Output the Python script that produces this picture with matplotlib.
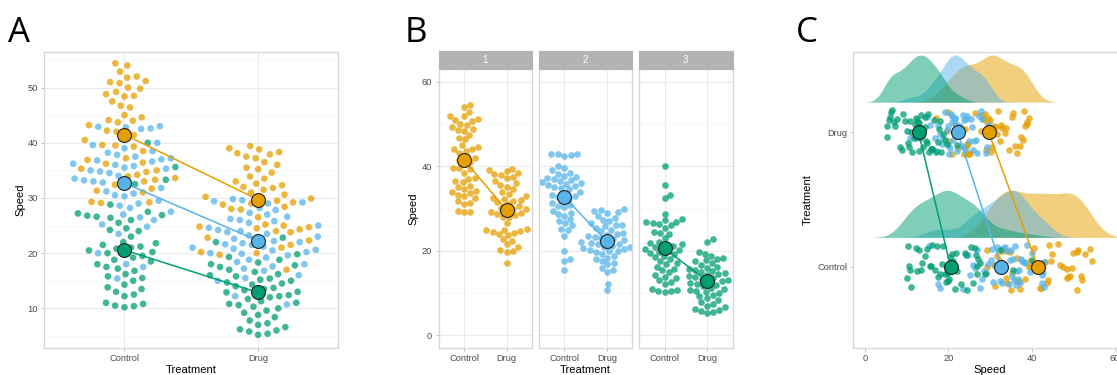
import numpy as np
import matplotlib.pyplot as plt

plt.rcParams['font.family'] = ['Liberation Sans', 'DejaVu Sans']

# === DATA ===
treatments = ['Control', 'Drug']
groups = ['1', '2', '3']
colors = ['#E69F00', '#56B4E9', '#009E73']

g1_control = [54.4, 54.0, 52.9, 52.0, 51.8, 51.2, 51.0, 50.8, 50.0, 49.8, 49.2, 48.8, 48.5,
              48.4, 47.5, 46.7, 46.4, 45.0, 44.6, 44.1, 44.0, 43.7, 43.2, 42.2, 42.0, 41.4,
              41.1, 40.5, 39.6, 39.5, 39.3, 38.5, 37.2, 36.9, 36.4, 36.2, 35.3, 35.0, 34.7,
              34.2, 33.9, 33.6, 33.3, 33.0, 32.4, 31.7, 31.3, 31.0, 29.3, 29.2, 29.1]
g1_drug = [39.4, 39.0, 38.8, 38.3, 38.1, 37.9, 37.5, 37.2, 36.5, 36.0, 35.5, 35.2, 34.6,
           33.9, 33.5, 33.0, 32.6, 32.3, 32.0, 31.8, 31.5, 31.0, 30.6, 30.2, 30.0, 29.9,
           29.5, 29.2, 29.0, 28.8, 28.4, 28.0, 27.9, 26.5, 25.2, 25.0, 24.8, 24.7, 24.5,
           24.3, 24.0, 23.8, 22.8, 22.3, 21.5, 21.0, 20.2, 20.0, 19.7, 17.0]
g2_control = [43.0, 42.9, 42.8, 42.6, 42.5, 40.0, 39.6, 39.0, 38.5, 38.2, 37.8, 37.5, 37.2,
              37.0, 36.8, 36.6, 36.2, 36.0, 35.8, 35.5, 35.3, 35.0, 34.8, 34.5, 34.0, 33.5,
              33.2, 33.0, 32.8, 32.3, 31.8, 31.2, 30.8, 30.5, 30.3, 29.5, 29.0, 28.6, 28.2,
              27.5, 27.0, 26.5, 26.0, 25.2, 24.8, 23.5, 20.0, 18.0, 17.5, 15.4]
g2_drug = [29.8, 29.6, 29.4, 29.2, 29.0, 28.2, 27.8, 27.3, 27.0, 26.6, 26.2, 26.0, 25.8,
           25.5, 25.0, 24.6, 24.2, 24.0, 23.8, 23.5, 23.2, 23.0, 22.8, 22.6, 22.2, 22.0,
           21.8, 21.6, 21.5, 21.2, 21.0, 20.8, 20.6, 20.5, 20.2, 20.0, 19.9, 19.6, 19.2,
           18.8, 18.4, 18.0, 17.6, 17.2, 16.8, 16.0, 15.5, 15.0, 12.2, 10.7]
g3_control = [40.0, 35.6, 33.3, 32.5, 28.8, 27.5, 27.2, 26.9, 26.8, 26.6, 26.4, 26.0, 25.5,
              24.5, 24.2, 24.0, 23.0, 22.0, 21.8, 21.5, 21.2, 21.0, 20.8, 20.5, 20.2, 20.0,
              19.8, 19.5, 19.2, 18.8, 18.5, 18.0, 17.5, 17.2, 16.8, 16.2, 15.8, 15.5, 15.0,
              14.3, 13.8, 13.5, 13.0, 12.5, 12.2, 11.0, 10.8, 10.5, 10.4, 10.2]
g3_drug = [22.8, 22.0, 19.8, 19.3, 18.8, 18.3, 18.0, 17.8, 17.5, 17.0, 16.6, 16.2, 16.0,
           15.8, 15.4, 15.2, 15.0, 14.7, 14.5, 14.3, 14.0, 13.7, 13.5, 13.3, 13.0, 12.9,
           12.7, 12.4, 12.2, 12.0, 11.7, 11.3, 11.0, 10.8, 10.6, 10.3, 10.0, 9.6, 9.2, 8.8,
           8.4, 7.8, 7.3, 7.0, 6.6, 6.2, 6.0, 5.8, 5.4, 5.2]

data = {
    ('1', 'Control'): g1_control, ('1', 'Drug'): g1_drug,
    ('2', 'Control'): g2_control, ('2', 'Drug'): g2_drug,
    ('3', 'Control'): g3_control, ('3', 'Drug'): g3_drug,
}

W, H = 1117, 375
fig = plt.figure(figsize=(W / 100, H / 100), dpi=100)

DOT = 23       # scatter size of single observations
MEAN = 100     # scatter size of the mean markers
BORDER = '#D6D6D6'


def box(l, t, r, b):
    return [l / W, 1 - b / H, (r - l) / W, (b - t) / H]


def style(ax, grid=True):
    for s in ax.spines.values():
        s.set_color(BORDER)
        s.set_linewidth(0.9)
    ax.tick_params(colors='#B3B3B3', labelcolor='#4D4D4D', labelsize=6.7,
                   length=2.5, width=0.6, pad=2)
    ax.tick_params(which='minor', length=0)
    if grid:
        ax.grid(which='major', color='#EBEBEB', lw=0.8)
        ax.grid(which='minor', color='#F5F5F5', lw=0.5)
    ax.set_axisbelow(True)


def px_scale(ax):
    p0 = ax.transData.transform((0, 0))
    p1 = ax.transData.transform((1, 1))
    return p1[0] - p0[0], p1[1] - p0[1]


def swarm(ypix, d):
    # simple beeswarm: place each point (ascending) as close to the centre as possible
    xs = np.zeros(len(ypix))
    px_, py_ = [], []
    for i in np.argsort(ypix):
        y = ypix[i]
        cands = [0.0]
        for px, py in zip(px_, py_):
            dy = abs(y - py)
            if dy < d:
                dx = np.sqrt(d * d - dy * dy)
                cands += [px + dx, px - dx]
        for c in sorted(cands, key=abs):
            if all((c - px) ** 2 + (y - py) ** 2 >= d * d - 1e-6 for px, py in zip(px_, py_)):
                break
        xs[i] = c
        px_.append(c)
        py_.append(y)
    return xs


def label(x, y, s, **kw):
    fig.text(x / W, 1 - y / H, s, **kw)


# === PANEL A ===
axA = fig.add_axes(box(44.3, 51.7, 338.3, 347.7))
axA.set_xlim(0.4, 2.6)
axA.set_ylim(2.87, 56.5)
axA.set_xticks([1, 2], treatments)
axA.set_yticks([10, 20, 30, 40, 50])
axA.set_yticks([5, 15, 25, 35, 45, 55], minor=True)
style(axA)
sx, sy = px_scale(axA)
for ti, tr in enumerate(treatments):
    vals = np.concatenate([data[(g, tr)] for g in groups])
    cols = np.concatenate([[colors[k]] * len(data[(g, tr)]) for k, g in enumerate(groups)])
    off = swarm(vals * sy, 9.5)
    axA.scatter(ti + 1 + off / sx, vals, s=DOT, c=cols, alpha=0.75, lw=0, zorder=2)
for k, g in enumerate(groups):
    m = [np.mean(data[(g, tr)]) for tr in treatments]
    axA.plot([1, 2], m, color=colors[k], lw=1.1, zorder=3)
    axA.scatter([1, 2], m, s=MEAN, color=colors[k], edgecolor='#222222', lw=0.8, zorder=4)

# === PANEL B ===
facet_left = [438.5, 538.8, 639.0]
for k, g in enumerate(groups):
    l = facet_left[k]
    ax = fig.add_axes(box(l, 69.3, l + 93.5, 347.7))
    ax.set_xlim(0.4, 2.6)
    ax.set_ylim(-2.93, 62.93)
    ax.set_xticks([1, 2], treatments)
    ax.set_yticks([0, 20, 40, 60])
    ax.set_yticks([10, 30, 50], minor=True)
    style(ax)
    if k > 0:
        ax.tick_params(axis='y', which='both', left=False, labelleft=False)
    sx, sy = px_scale(ax)
    for ti, tr in enumerate(treatments):
        vals = np.array(data[(g, tr)])
        off = swarm(vals * sy, 6.5)
        ax.scatter(ti + 1 + off / sx, vals, s=DOT, color=colors[k], alpha=0.75, lw=0, zorder=2)
    m = [np.mean(data[(g, tr)]) for tr in treatments]
    ax.plot([1, 2], m, color=colors[k], lw=1.1, zorder=3)
    ax.scatter([1, 2], m, s=MEAN, color=colors[k], edgecolor='#222222', lw=0.8, zorder=4)

    strip = fig.add_axes(box(l, 51.0, l + 93.5, 69.3))
    strip.set_facecolor('#B3B3B3')
    strip.set_xticks([])
    strip.set_yticks([])
    for s in strip.spines.values():
        s.set_color('#B3B3B3')
    strip.text(0.5, 0.5, g, color='white', fontsize=7, ha='center', va='center',
               transform=strip.transAxes)

# === PANEL C ===
c_lo, c_hi = -2.8, 64
axC = fig.add_axes(box(853.3, 51.7, 853.3 + (c_hi - c_lo) * 4.167, 347.7))
axC.set_xlim(c_lo, c_hi)
axC.set_ylim(0.4, 2.6)
axC.set_xticks([0, 20, 40, 60])
axC.set_yticks([1, 2], treatments)
style(axC, grid=False)

ridge_base = [1.22, 2.225]
ridge_h = 0.35
rng = np.random.default_rng(7)   # vertical jitter of the points only
for ti, tr in enumerate(treatments):
    for k, g in enumerate(groups):
        vals = np.array(data[(g, tr)])
        iqr = np.subtract(*np.percentile(vals, [75, 25]))
        bw = 0.9 * min(vals.std(ddof=1), iqr / 1.34) * len(vals) ** -0.2
        xs = np.linspace(vals.min() - 3 * bw, vals.max() + 3 * bw, 300)
        dens = np.exp(-0.5 * ((xs[:, None] - vals[None, :]) / bw) ** 2).sum(axis=1)
        dens = dens / dens.max() * ridge_h
        axC.fill_between(xs, ridge_base[ti], ridge_base[ti] + dens, color=colors[k],
                         alpha=0.5, lw=0, zorder=1)

        jit = rng.uniform(-0.17, 0.17, len(vals))
        axC.scatter(vals, ti + 1 + jit, s=DOT, color=colors[k], alpha=0.75, lw=0, zorder=2)

for k, g in enumerate(groups):
    m = [np.mean(data[(g, tr)]) for tr in treatments]
    axC.plot([m[1], m[0]], [2, 1], color=colors[k], lw=1.1, zorder=3)
    axC.scatter(m, [1, 2], s=MEAN, color=colors[k], edgecolor='#222222', lw=0.8, zorder=4)

# === TITLES AND PANEL LETTERS ===
tk = dict(fontsize=8.1, color='black', ha='center', va='center')
label(191.3, 370, 'Treatment', **tk)
label(20, 199.7, 'Speed', rotation=90, **tk)
label(585.5, 370, 'Treatment', **tk)
label(413.3, 208.5, 'Speed', rotation=90, **tk)
label(990, 370, 'Speed', **tk)
label(808, 199.7, 'Treatment', rotation=90, **tk)

lt = dict(fontsize=25, color='black', va='baseline', family=['Open Sans', 'DejaVu Sans'])
label(8, 41.5, 'A', **lt)
label(405, 41.5, 'B', **lt)
label(796, 41.5, 'C', **lt)

fig.savefig('out.png', dpi=100)
